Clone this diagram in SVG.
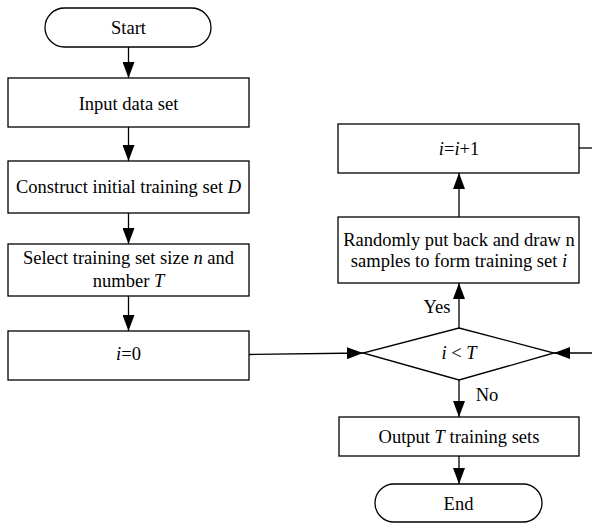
<svg xmlns="http://www.w3.org/2000/svg" width="592" height="523" viewBox="0 0 592 523">
<style>
.s{fill:#fff;stroke:#000;stroke-width:1.3}
.t{font-family:"Liberation Serif","Times New Roman",serif;font-size:18.5px;fill:#000;text-anchor:middle}
.i{font-style:italic}
.c{fill:none;stroke:#000;stroke-width:1.3}
</style>
<defs>
<marker id="a" markerUnits="userSpaceOnUse" markerWidth="17" markerHeight="12" refX="16" refY="6" orient="auto">
<path d="M0,0 L16,6 L0,12 z" fill="#000"/>
</marker>
</defs>
<rect width="592" height="523" fill="#fff"/>
<g id="connectors">
<line class="c" x1="128.5" y1="47" x2="128.5" y2="78" marker-end="url(#a)"/>
<line class="c" x1="128.5" y1="127" x2="128.5" y2="161" marker-end="url(#a)"/>
<line class="c" x1="128.5" y1="213" x2="128.5" y2="244" marker-end="url(#a)"/>
<line class="c" x1="128.5" y1="296" x2="128.5" y2="331" marker-end="url(#a)"/>
<line class="c" x1="249" y1="354.5" x2="363" y2="353" marker-end="url(#a)"/>
<line class="c" x1="459" y1="328" x2="459" y2="283" marker-end="url(#a)"/>
<line class="c" x1="459" y1="217" x2="459" y2="173" marker-end="url(#a)"/>
<line class="c" x1="579" y1="148" x2="592" y2="148"/>
<line class="c" x1="592" y1="353" x2="554" y2="353" marker-end="url(#a)"/>
<line class="c" x1="459" y1="380" x2="459" y2="417" marker-end="url(#a)"/>
<line class="c" x1="459" y1="456" x2="459" y2="484" marker-end="url(#a)"/>
<text class="t" x="437" y="313">Yes</text>
<text class="t" x="487" y="400.5">No</text>
</g>
<g id="start">
<rect class="s" x="45" y="8" width="166" height="39" rx="19.5"/>
<text class="t" x="128.5" y="33.5">Start</text>
</g>
<g id="input">
<rect class="s" x="8" y="78" width="241" height="49"/>
<text class="t" x="128.5" y="110">Input data set</text>
</g>
<g id="construct">
<rect class="s" x="8" y="161" width="241" height="52"/>
<text class="t" x="128.5" y="193">Construct initial training set <tspan class="i">D</tspan></text>
</g>
<g id="select">
<rect class="s" x="8" y="244" width="241" height="52"/>
<text class="t" x="128.5" y="264">Select training set size <tspan class="i">n</tspan> and</text>
<text class="t" x="128.5" y="287">number <tspan class="i">T</tspan></text>
</g>
<g id="init">
<rect class="s" x="8" y="331" width="241" height="49"/>
<text class="t" x="128.5" y="360"><tspan class="i">i</tspan>=0</text>
</g>
<g id="increment">
<rect class="s" x="338" y="124" width="241" height="49"/>
<text class="t" x="459" y="155"><tspan class="i">i</tspan>=<tspan class="i">i</tspan>+1</text>
</g>
<g id="sample">
<rect class="s" x="338" y="217" width="241" height="66"/>
<text class="t" x="459" y="246">Randomly put back and draw n</text>
<text class="t" x="459" y="267">samples to form training set <tspan class="i">i</tspan></text>
</g>
<g id="decision">
<polygon class="s" points="459,328 554,353 459,380 363,353"/>
<text class="t" x="459" y="359"><tspan class="i">i</tspan> &lt; <tspan class="i">T</tspan></text>
</g>
<g id="output">
<rect class="s" x="339" y="417" width="240" height="39"/>
<text class="t" x="459" y="443">Output <tspan class="i">T</tspan> training sets</text>
</g>
<g id="end">
<rect class="s" x="375" y="484" width="167" height="38" rx="19"/>
<text class="t" x="458.5" y="510">End</text>
</g>
</svg>
